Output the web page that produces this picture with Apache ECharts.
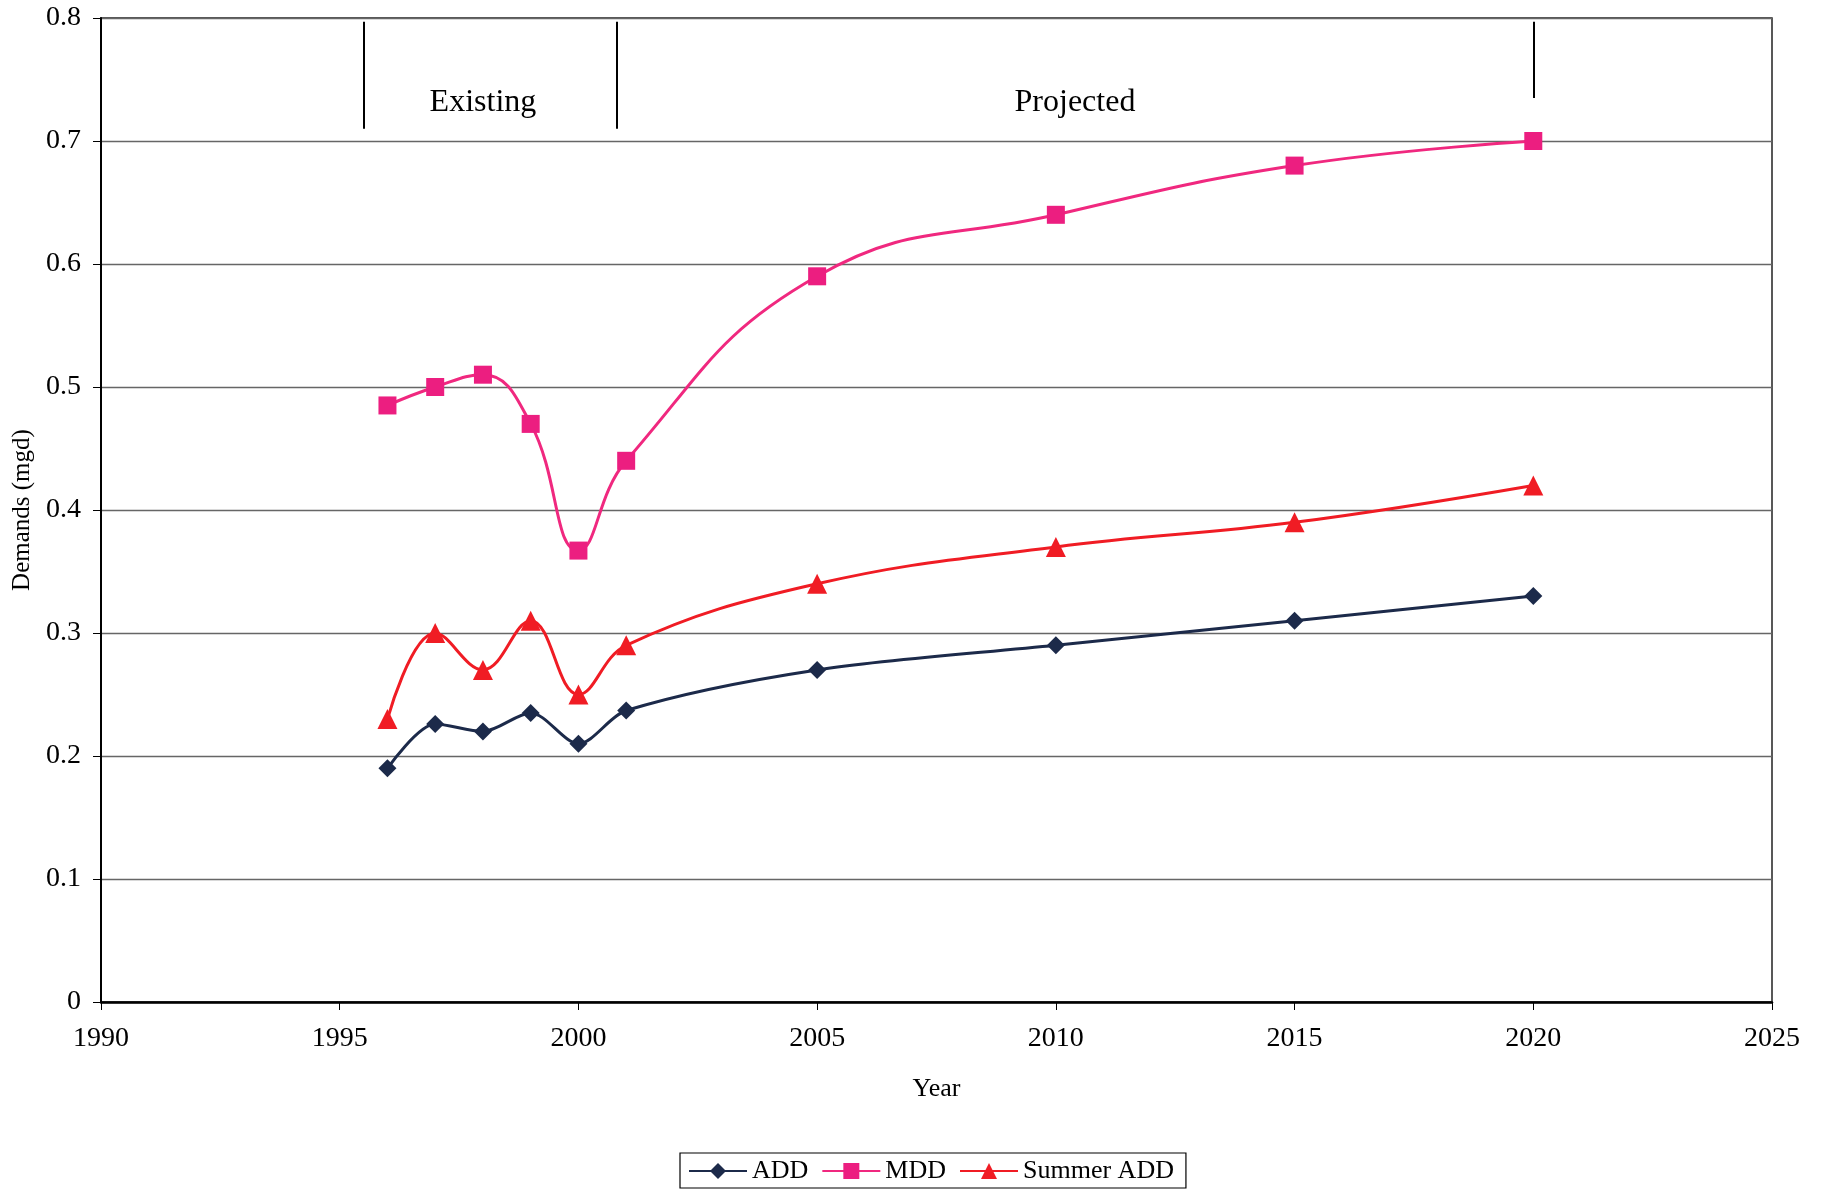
<!DOCTYPE html>
<html>
<head>
    <meta charset="UTF-8">
    <title>Demands</title>
    <script src="https://cdn.jsdelivr.net/npm/echarts@6/dist/echarts.min.js"></script>
    <style>
        html, body { margin: 0; padding: 0; background: #fff; }
        #chartDom { width: 1823px; height: 1199px; }
    </style>
</head>
<body>
<div id="chartDom"></div>
<script type="text/javascript">
    // values
    var years = [1996, 1997, 1998, 1999, 2000, 2001, 2005, 2010, 2015, 2020];
    var add = [0.19, 0.226, 0.22, 0.235, 0.21, 0.237, 0.27, 0.29, 0.31, 0.33];
    var mdd = [0.485, 0.5, 0.51, 0.47, 0.367, 0.44, 0.59, 0.64, 0.68, 0.70];
    var summerAdd = [0.23, 0.30, 0.27, 0.31, 0.25, 0.29, 0.34, 0.37, 0.39, 0.42];

    // period separators and labels
    var dividerYears = [1995.5, 2000.8, 2020];
    var dividerTop = [0.797, 0.797, 0.797];
    var dividerBottom = [0.71, 0.71, 0.735];
    var periodNames = ['Existing', 'Projected'];
    var periodX = [1998.0, 2010.4];
    var periodY = 0.731;

    var font = 'Liberation Serif';

    function pairs(ys) {
        return years.map(function (x, i) { return [x, ys[i]]; });
    }

    var myChart = echarts.init(document.getElementById('chartDom'));

    var option = {
        animation: false,
        textStyle: { fontFamily: font, color: '#000' },
        grid: {
            left: 101, right: 51, top: 18, bottom: 197,
            outerBoundsMode: 'none', containLabel: false,
            show: true, borderColor: '#222', borderWidth: 1.5
        },
        legend: {
            data: ['ADD', 'MDD', 'Summer ADD'],
            left: 680, top: 1153,
            itemWidth: 58, itemHeight: 20, itemGap: 13,
            padding: [5, 12, 4, 8],
            borderColor: '#000', borderWidth: 1.2,
            textStyle: { fontFamily: font, fontSize: 26, color: '#000' }
        },
        xAxis: {
            type: 'value', min: 1990, max: 2025, interval: 5,
            name: 'Year', nameLocation: 'middle', nameGap: 74,
            nameTextStyle: { fontFamily: font, fontSize: 26, color: '#000' },
            axisLine: { show: true, lineStyle: { color: '#000', width: 2.5 } },
            axisTick: { show: true, length: 8, lineStyle: { color: '#000' } },
            axisLabel: { fontFamily: font, fontSize: 28, color: '#000', margin: 23,
                formatter: function (v) { return String(v); } },
            splitLine: { show: false }
        },
        yAxis: {
            type: 'value', min: 0, max: 0.8, interval: 0.1,
            name: 'Demands (mgd)', nameLocation: 'middle', nameGap: 64,
            nameTextStyle: { fontFamily: font, fontSize: 25, color: '#000' },
            axisLine: { show: true, lineStyle: { color: '#000', width: 2 } },
            axisTick: { show: true, length: 8, lineStyle: { color: '#000' } },
            axisLabel: { fontFamily: font, fontSize: 28, color: '#000', margin: 20,
                formatter: function (v) { return v === 0 ? '0' : v.toFixed(1); } },
            splitLine: { show: true, lineStyle: { color: '#666', width: 1.3 } }
        },
        series: [
            {
                name: 'ADD', type: 'line', smooth: 0.3,
                data: pairs(add),
                symbol: 'diamond', symbolSize: 18,
                lineStyle: { color: '#1c2a4a', width: 3 },
                itemStyle: { color: '#1c2a4a' }
            },
            {
                name: 'MDD', type: 'line', smooth: 0.45,
                data: pairs(mdd),
                symbol: 'rect', symbolSize: 18,
                lineStyle: { color: '#f0287f', width: 3 },
                itemStyle: { color: '#ec1e80' }
            },
            {
                name: 'Summer ADD', type: 'line', smooth: 0.4,
                data: pairs(summerAdd),
                symbol: 'triangle', symbolSize: 20,
                lineStyle: { color: '#f01c24', width: 3 },
                itemStyle: { color: '#f01c24' }
            },
            {
                name: 'periods', type: 'line', data: [],
                silent: true,
                markLine: {
                    silent: true, symbol: 'none',
                    label: { show: false },
                    lineStyle: { color: '#000', width: 2, type: 'solid' },
                    data: dividerYears.map(function (x, i) {
                        return [{ coord: [x, dividerTop[i]] }, { coord: [x, dividerBottom[i]] }];
                    })
                }
            }
        ]
    };

    myChart.setOption(option);

    // period names placed through the chart's own scales
    myChart.setOption({
        graphic: periodNames.map(function (n, i) {
            var p = myChart.convertToPixel({ gridIndex: 0 }, [periodX[i], periodY]);
            return {
                type: 'text', x: p[0], y: p[1], silent: true,
                style: { text: n, font: '32px "Liberation Serif"', fill: '#000',
                    textAlign: 'center', textVerticalAlign: 'middle' }
            };
        })
    });
</script>
</body>
</html>
